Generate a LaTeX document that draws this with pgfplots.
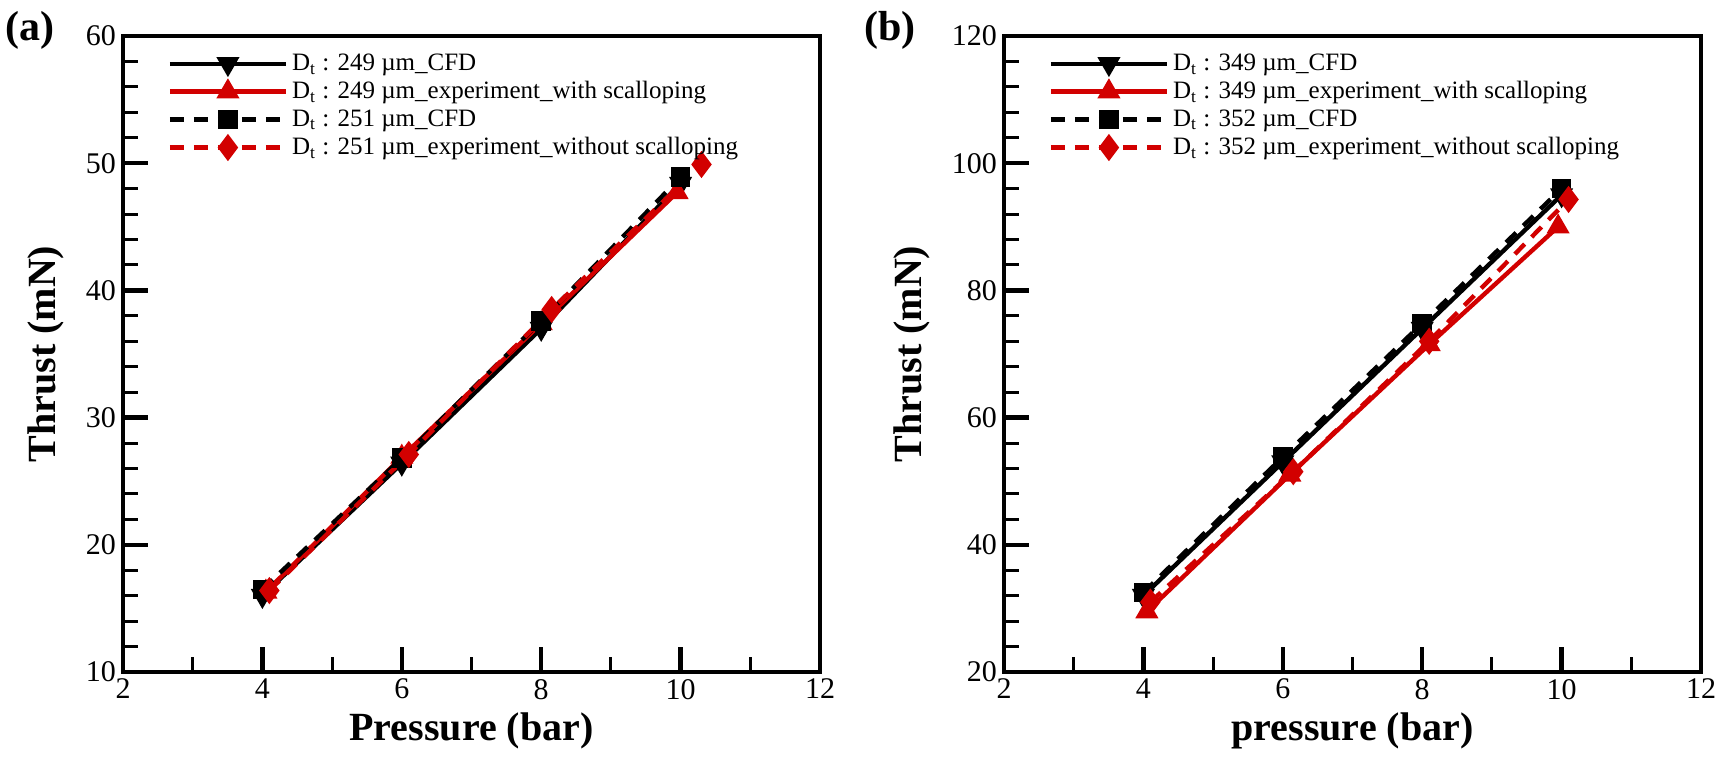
\documentclass[border=0pt]{standalone}
\usepackage{fontspec}
\setmainfont{Liberation Serif}
\usepackage{pgfplots}
\pgfplotsset{compat=1.18}
\definecolor{cred}{RGB}{210,0,0}

\pgfplotsset{
  thrust/.style={
    scale only axis,
    width=348.5pt, height=318pt,
    xmin=2, xmax=12, xtick={2,4,...,12}, minor x tick num=1,
    axis line style={line width=2pt},
    tick align=inside, xtick pos=lower, ytick pos=left,
    major tick length=12.5pt, minor tick length=7.5pt,
    every major tick/.style={black, line width=2.2pt},
    every minor tick/.style={black, line width=1.5pt},
    ticklabel style={font=\fontsize{15}{18}\selectfont},
    /pgf/number format/assume math mode=true,
    label style={font=\bfseries\fontsize{20}{24}\selectfont},
    ylabel shift=4pt,
    legend style={draw=none, fill=none, font=\fontsize{12.5}{14}\selectfont,
      at={(0.055,0.985)}, anchor=north west, row sep=0pt},
    legend cell align=left,
    legend image code/.code={%
      \draw (0pt,0pt) -- (58pt,0pt);
      \draw plot[only marks] coordinates {(29pt,0pt)};},
  },
  cfdsolid/.style={black, line width=2.2pt, mark=triangle*, mark size=4.5pt,
    mark options={rotate=180, solid}},
  expsolid/.style={cred, line width=2.2pt, mark=triangle*, mark size=4.5pt,
    mark options={solid}},
  cfddash/.style={black, line width=2.2pt, dash pattern=on 7pt off 5pt,
    mark=square*, mark size=3.8pt, mark options={solid}},
  expdash/.style={cred, line width=2.2pt, dash pattern=on 7pt off 5pt,
    mark=diamond*, mark size=5pt, mark options={solid}},
}

\begin{document}
\begin{tikzpicture}
\path[use as bounding box] (0,0) rectangle (860.5pt,382.5pt);

% (a) throat diameters around 250 um
\begin{axis}[thrust, at={(61.5pt,46.5pt)}, anchor=south west,
  ymin=10, ymax=60, ytick={10,20,...,60}, minor y tick num=4,
  xlabel={Pressure (bar)}, ylabel={Thrust (mN)}]
\addplot[cfdsolid] coordinates {(4,16.0) (6,26.4) (8,37.0) (10,48.4)};
\addlegendentry{D\textsubscript{t} : 249 µm\_CFD}
\addplot[expsolid] coordinates {(4.05,16.3) (6.0,26.9) (8.0,37.4) (9.95,47.7)};
\addlegendentry{D\textsubscript{t} : 249 µm\_experiment\_with scalloping}
\addplot[cfddash] coordinates {(4,16.5) (6,26.8) (8,37.6) (10,48.9)};
\addlegendentry{D\textsubscript{t} : 251 µm\_CFD}
\addplot[expdash] coordinates {(4.1,16.4) (6.1,27.1) (8.15,38.5) (10.3,49.9)};
\addlegendentry{D\textsubscript{t} : 251 µm\_experiment\_without scalloping}
\end{axis}

% (b) throat diameters around 350 um
\begin{axis}[thrust, at={(502pt,46.5pt)}, anchor=south west,
  ymin=20, ymax=120, ytick={20,40,...,120}, minor y tick num=4,
  xlabel={pressure (bar)}, ylabel={Thrust (mN)}]
\addplot[cfdsolid] coordinates {(4,32.0) (6,53.0) (8,74.0) (10,95.0)};
\addlegendentry{D\textsubscript{t} : 349 µm\_CFD}
\addplot[expsolid] coordinates {(4.05,29.5) (6.1,51.0) (8.1,71.5) (9.95,90.0)};
\addlegendentry{D\textsubscript{t} : 349 µm\_experiment\_with scalloping}
\addplot[cfddash] coordinates {(4,32.5) (6,53.8) (8,74.8) (10,96.0)};
\addlegendentry{D\textsubscript{t} : 352 µm\_CFD}
\addplot[expdash] coordinates {(4.1,31.0) (6.15,51.5) (8.1,72.0) (10.1,94.3)};
\addlegendentry{D\textsubscript{t} : 352 µm\_experiment\_without scalloping}
\end{axis}

\node[font=\bfseries\fontsize{21}{24}\selectfont] at (15pt,367.5pt) {(a)};
\node[font=\bfseries\fontsize{21}{24}\selectfont] at (445pt,367.5pt) {(b)};
\end{tikzpicture}
\end{document}
